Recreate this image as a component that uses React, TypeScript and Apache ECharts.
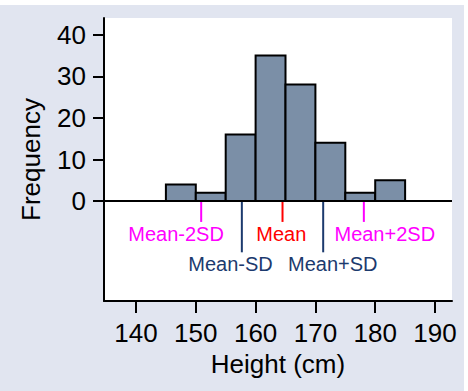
import React, { useEffect, useRef } from "react";
import * as echarts from "echarts";

const binStarts = [145, 150, 155, 160, 165, 170, 175, 180];
const binWidth = 5;
const counts = [4, 2, 16, 35, 28, 14, 2, 5];

const xTicks = [140, 150, 160, 170, 180, 190];
const yTicks = [0, 10, 20, 30, 40];

const markerNames = ["Mean-2SD", "Mean-SD", "Mean", "Mean+SD", "Mean+2SD"];
const markerX = [150.9, 157.7, 164.5, 171.3, 178.1];
const markerLineEnd = [-5, -12.3, -5, -12.3, -5];
const markerLabelX = [146.7, 155.8, 164.3, 172.9, 181.6];
const markerLabelY = [-7.9, -15, -7.9, -15, -7.9];
const markerColors = ["#ff00ff", "#1c3a6e", "#ff0000", "#1c3a6e", "#ff00ff"];

const FONT = "'Liberation Sans', Arial, Helvetica, sans-serif";

export default function App() {
  const ref = useRef<HTMLDivElement>(null);
  useEffect(() => {
    document.body.style.margin = "0";
    if (!ref.current) return;
    const chart = echarts.init(ref.current, null, { renderer: "svg" });
    const histData = binStarts.map((s, i) => [s, s + binWidth, counts[i]]);
    const markerData = markerX.map((x, i) => [x, markerLineEnd[i], markerLabelX[i], markerLabelY[i], i]);
    chart.setOption({
      animation: false,
      backgroundColor: "transparent",
      grid: {
        left: 104,
        top: 18,
        width: 348,
        height: 283,
        show: true,
        backgroundColor: "#ffffff",
        borderWidth: 0,
      },
      xAxis: {
        type: "value",
        min: 134.65,
        max: 192.84,
        name: "Height (cm)",
        nameLocation: "middle",
        nameGap: 38,
        nameTextStyle: { color: "#000", fontSize: 26, fontFamily: FONT },
        axisLine: { show: true, onZero: false, lineStyle: { color: "#000", width: 2 } },
        axisTick: { show: true, length: 12, lineStyle: { color: "#000", width: 2 }, customValues: xTicks },
        axisLabel: { color: "#000", fontSize: 26, fontFamily: FONT, margin: 19, customValues: xTicks },
        splitLine: { show: false },
      },
      yAxis: {
        type: "value",
        min: -24,
        max: 44,
        name: "Frequency",
        nameLocation: "middle",
        nameGap: 60,
        nameTextStyle: { color: "#000", fontSize: 26, fontFamily: FONT },
        axisLine: { show: true, onZero: false, lineStyle: { color: "#000", width: 2 } },
        axisTick: { show: true, length: 11, lineStyle: { color: "#000", width: 2 }, customValues: yTicks },
        axisLabel: { color: "#000", fontSize: 26, fontFamily: FONT, margin: 18, customValues: yTicks },
        splitLine: { show: false },
      },
      series: [
        {
          type: "custom",
          data: histData,
          encode: { x: [0, 1], y: 2 },
          renderItem: (params: any, api: any) => {
            const lo = api.value(0);
            const hi = api.value(1);
            const c = api.value(2);
            const p1 = api.coord([lo, c]);
            const p2 = api.coord([hi, 0]);
            return {
              type: "rect",
              shape: { x: p1[0], y: p1[1], width: p2[0] - p1[0], height: p2[1] - p1[1] },
              style: { fill: "#7b8fa7", stroke: "#000", lineWidth: 2 },
            };
          },
          markLine: {
            silent: true,
            symbol: "none",
            label: { show: false },
            lineStyle: { color: "#000", width: 2, type: "solid" },
            data: [{ yAxis: 0 }],
          },
        },
        {
          type: "custom",
          data: markerData,
          encode: { x: 0, y: 1 },
          renderItem: (params: any, api: any) => {
            const x = api.value(0);
            const yEnd = api.value(1);
            const lx = api.value(2);
            const ly = api.value(3);
            const idx = api.value(4);
            const a = api.coord([x, 0]);
            const b = api.coord([x, yEnd]);
            const t = api.coord([lx, ly]);
            const color = markerColors[idx];
            return {
              type: "group",
              children: [
                {
                  type: "line",
                  shape: { x1: a[0], y1: a[1], x2: b[0], y2: b[1] },
                  style: { stroke: color, lineWidth: 2 },
                },
                {
                  type: "text",
                  x: t[0],
                  y: t[1],
                  style: {
                    text: markerNames[idx],
                    fill: color,
                    fontSize: 20,
                    fontFamily: FONT,
                    align: "center",
                    verticalAlign: "middle",
                  },
                },
              ],
            };
          },
        },
      ],
    });
    return () => chart.dispose();
  }, []);
  return (
    <div style={{ position: "relative", width: 468, height: 391, background: "#ffffff" }}>
      <div style={{ position: "absolute", left: 0, top: 5, width: 464, height: 386, background: "#e1e5f0" }} />
      <div ref={ref} style={{ position: "absolute", left: 0, top: 0, width: 468, height: 391 }} />
    </div>
  );
}
